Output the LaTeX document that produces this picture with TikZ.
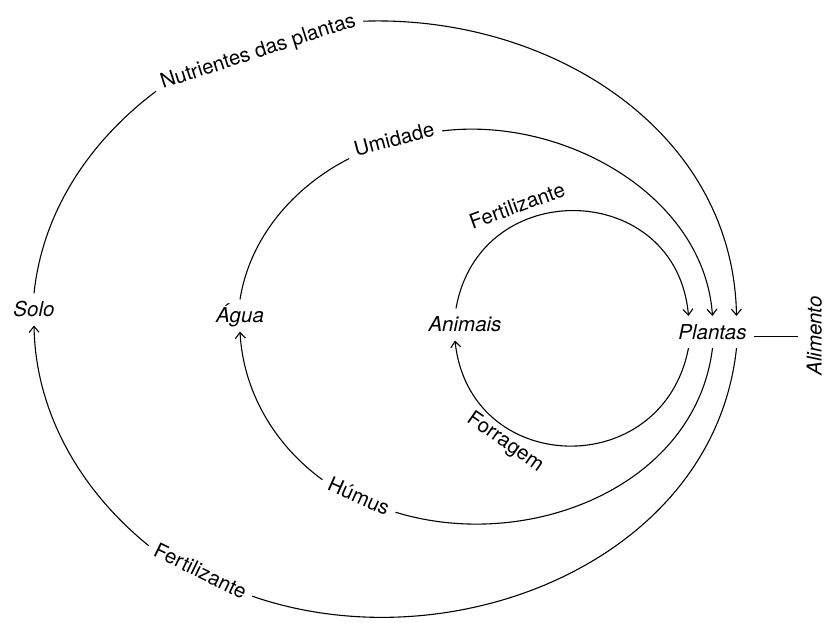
\documentclass[tikz,border=0pt]{standalone}
\usepackage{fontspec}
\setmainfont{TeX Gyre Heros}
\usetikzlibrary{arrows.meta}

\begin{document}
\begin{tikzpicture}
    [
      x = 1pt, y = 1pt,
      line width = 1.1pt,
      every node/.style = {font = \fontsize{20.5}{24}\selectfont, inner sep = 7pt},
      place/.style = {font = \fontsize{20.5}{24}\selectfont\itshape, text height = 15pt, text depth = 0pt, inner ysep = 8pt},
      flow/.style = {-{Straight Barb[length = 6pt, width = 10pt]}},
    ]
    \useasboundingbox (0,0) rectangle (825,623);

    \node[place](solo) at (34,313.5) {Solo};
    \node[place](agua) at (240,307.5) {Água};
    \node[place](animais) at (465,298.5) {Animais};
    \node[place](plantas) at (712.5,291) {Plantas};
    \node[place,rotate=90](alimento) at (814,287) {Alimento};

    \node[anchor=base,rotate=18](nut) at (260,565.5) {Nutrientes das plantas};
    \node[anchor=base,rotate=15](umi) at (396,477) {Umidade};
    \node[anchor=base,rotate=20](fert) at (519.5,410.5) {Fertilizante};
    \node[rotate=-35](forr) at (505,180.5) {Forragem};
    \node[rotate=-24](hum) at (359,127) {Húmus};
    \node[rotate=-26](fert2) at (200.5,52) {Fertilizante};

    \draw (solo.north) to[out=84,in=217,looseness=0.9] (nut.base west);
    \draw[flow] (nut.mid east) to[out=2,in=91] ([xshift=24pt]plantas.north);
    \draw ([xshift=24pt]plantas.south) to[out=-96,in=-19] (fert2.east);
    \draw[flow] (fert2.west) to[out=141,in=-89,looseness=0.9] (solo.south);

    \draw (agua.north) to[out=81,in=207,looseness=0.9] (umi.base west);
    \draw[flow] (umi.mid east) to[out=7,in=94,looseness=0.95] (plantas.north);
    \draw (plantas.south) to[out=-97,in=-17] (hum.east);
    \draw[flow] (hum.west) to[out=144,in=-87,looseness=0.9] (agua.south);

    \draw[flow] ([xshift=-9pt]animais.north) to[out=80,in=95,looseness=1.5] ([xshift=-24pt]plantas.north);
    \draw[flow] ([xshift=-24pt]plantas.south) to[out=-101,in=-84,looseness=1.5] ([xshift=-10pt]animais.south);

    \draw ([yshift=-4.5pt]plantas.east) -- ([yshift=-4.5pt]plantas.east -| alimento.north);
\end{tikzpicture}
\end{document}
